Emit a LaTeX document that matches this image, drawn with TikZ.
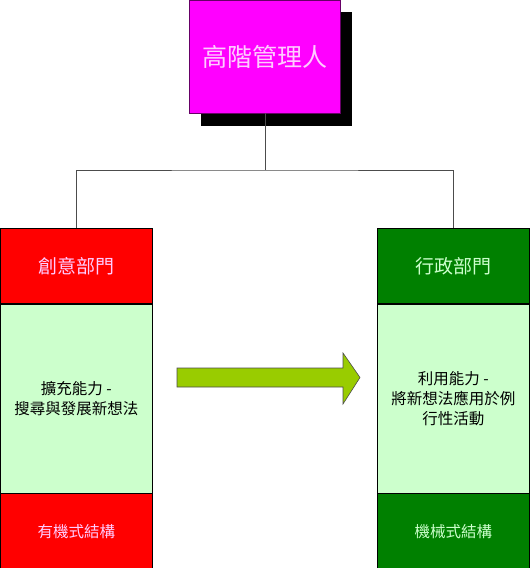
\documentclass[tikz,border=0pt]{standalone}
\usepackage{fontspec}
\setmainfont{Noto Sans CJK TC}
\definecolor{mag}{HTML}{FF00FF}
\definecolor{redc}{HTML}{FF0000}
\definecolor{lgreen}{HTML}{CCFFCC}
\definecolor{dgreen}{HTML}{008000}
\definecolor{arrowc}{HTML}{99CC00}
\definecolor{pinktxt}{HTML}{FFCCFF}
\definecolor{lgtxt}{HTML}{CCFFCC}
\tikzset{
  sect/.style={draw=black, line width=0.6pt, minimum width=152pt, inner sep=0pt, align=center},
  conn/.style={draw=black!70, line width=0.8pt},
  hdr/.style={font=\fontsize{19}{22}\selectfont},
  mid/.style={font=\fontsize{15.5}{20}\selectfont},
  ftr/.style={font=\fontsize{15.5}{20}\selectfont},
}
\begin{document}
\begin{tikzpicture}[x=1pt,y=-1pt]
\useasboundingbox (0,0) rectangle (530,568);
% top box shadow
\fill[black] (201,12) rectangle (352,126);
\node[draw=black!60!mag, fill=mag, minimum width=151pt, minimum height=113pt, inner sep=0pt, anchor=north west,
  text=pinktxt, font=\fontsize{25}{28}\selectfont] (top) at (189,0) {高階管理人};
% columns
\node[sect, hdr, fill=redc, minimum height=75pt, anchor=north west, text=pinktxt] (lh) at (0,228) {創意部門};
\node[sect, mid, fill=lgreen, minimum height=189pt, anchor=north] (lm) at (lh.south) {擴充能力 -\\搜尋與發展新想法};
\node[sect, ftr, fill=redc, minimum height=76pt, anchor=north, text=pinktxt] (lb) at (lm.south) {有機式結構};
\node[sect, hdr, fill=dgreen, minimum height=75pt, anchor=north west, text=lgtxt] (rh) at (377,228) {行政部門};
\node[sect, mid, fill=lgreen, minimum height=189pt, anchor=north] (rm) at (rh.south) {利用能力 -\\將新想法應用於例\\行性活動};
\node[sect, ftr, fill=dgreen, minimum height=76pt, anchor=north, text=lgtxt] (rb) at (rm.south) {機械式結構};
% connectors
\coordinate (j) at (265,170);
\draw[conn] (top.south -| j) -- (j);
\draw[conn] (lh.north -| 76,0) |- (j) -| (rh.north -| 453,0);
% arrow
\draw[draw=black!70, fill=arrowc, line width=0.6pt]
  (177,368) -- (343,368) -- (343,353) -- (360,377.5) -- (343,404) -- (343,387) -- (177,387) -- cycle;
\end{tikzpicture}
\end{document}
